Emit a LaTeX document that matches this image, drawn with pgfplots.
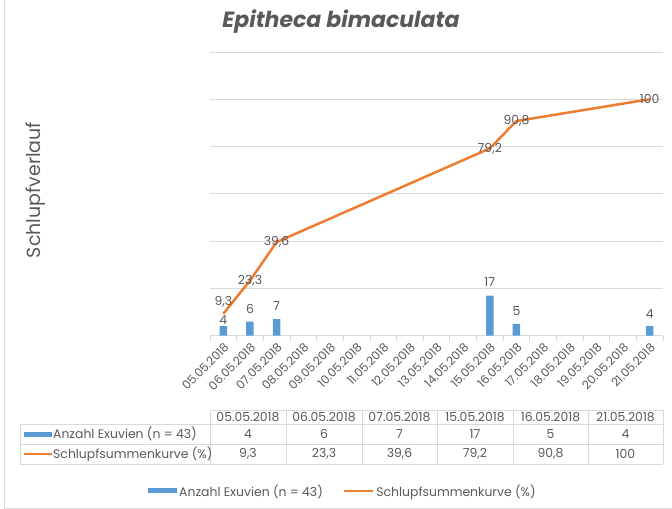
\documentclass[border=0pt]{standalone}
\usepackage{fontspec}
\setmainfont{Poppins}
\usepackage{pgfplots}
\usepackage{pgfplotstable}
\pgfplotsset{compat=1.18}
\definecolor{barblue}{HTML}{5B9BD5}
\definecolor{lineorange}{HTML}{ED7D31}
\definecolor{txt}{HTML}{595959}
\definecolor{gridc}{HTML}{D9D9D9}

\pgfplotstableread{
x y dy
0 4 6
1 6 13
2 7 13
10 17 13
11 5 13
16 4 12
}\bars
\pgfplotstableread{
x y dy
0 9.3 12
1 23.3 0
2 39.6 0
10 79.2 0
11 90.8 0
16 100 0
}\cum

\begin{document}
\begin{tikzpicture}[font=\fontsize{12.4bp}{14bp}\selectfont, text=txt]
\path[use as bounding box] (0,0) rectangle (672bp,509bp);
\draw[gridc, line width=0.75bp] (4bp,509bp) -- (4bp,1bp) -- (672bp,1bp);
\begin{axis}[
  at={(210bp,173.3bp)}, anchor=south west,
  scale only axis, width=453bp, height=283.7bp,
  xmin=-0.5, xmax=16.5, ymin=0, ymax=120,
  /pgf/number format/assume math mode=true,
  ytick={0,20,...,120}, yticklabels={},
  ymajorgrids, grid style={draw=gridc, line width=0.75bp},
  axis x line*=bottom, axis y line*=left,
  y axis line style={draw=none}, ytick style={draw=none},
  x axis line style={draw=gridc, line width=0.75bp},
  xtick={0,...,16},
  xticklabels={05.05.2018,06.05.2018,07.05.2018,08.05.2018,09.05.2018,10.05.2018,11.05.2018,12.05.2018,13.05.2018,14.05.2018,15.05.2018,16.05.2018,17.05.2018,18.05.2018,19.05.2018,20.05.2018,21.05.2018},
  major x tick style={draw=none},
  minor xtick={-0.5,0.5,...,16.5},
  minor x tick style={draw=gridc, line width=0.75bp},
  minor tick length=5bp, tick align=outside,
  xticklabel style={rotate=45, anchor=north east, inner sep=1.5bp, font=\fontsize{11.8bp}{14bp}\selectfont, text=txt},
  clip=false,
  legend style={at={(0.2936,-0.5474)}, anchor=center, draw=none, fill=none,
    legend columns=2, font=\fontsize{12.4bp}{14bp}\selectfont, text=txt,
    /tikz/every even column/.append style={column sep=18bp},
    /tikz/every odd column/.append style={inner sep=1bp}},
  legend cell align=left,
]
\addplot[ybar, bar shift=0pt, bar width=7.5bp, fill=barblue, draw=none,
  visualization depends on={\thisrow{dy} \as \dy},
  nodes near coords={\pgfmathprintnumber{\pgfplotspointmeta}},
  every node near coord/.append style={anchor=center, yshift=\dy bp, text=txt, font=\fontsize{12.4bp}{14bp}\selectfont},
  legend image code/.code={\fill[barblue] (0bp,-2.5bp) rectangle (29bp,2.5bp);}]
  table[x=x, y=y] {\bars};
\addlegendentry{Anzahl Exuvien (n = 43)}
\addplot[lineorange, line width=2.5bp, line join=round, mark=none,
  visualization depends on={\thisrow{dy} \as \dy},
  nodes near coords={\pgfmathprintnumber[use comma, fixed, precision=1]{\pgfplotspointmeta}},
  every node near coord/.append style={anchor=center, yshift=\dy bp, text=txt, font=\fontsize{12.4bp}{14bp}\selectfont},
  legend image code/.code={\draw[lineorange, line width=2.5bp] (0bp,0bp) -- (29bp,0bp);}]
  table[x=x, y=y] {\cum};
\addlegendentry{Schlupfsummenkurve (\%)}
\end{axis}
\node[anchor=base, font=\fontsize{22bp}{25bp}\selectfont\bfseries\itshape] at (341bp,481bp) {Epitheca bimaculata};
\node[anchor=base, rotate=90, font=\fontsize{19bp}{21bp}\selectfont] at (40bp,319bp) {Schlupfverlauf};
\begin{scope}[yshift=509bp, x=1bp, y=-1bp]
  \draw[gridc, line width=0.75bp] (210,410) -- (663,410);
  \draw[gridc, line width=0.75bp] (20,424.3) -- (663,424.3);
  \draw[gridc, line width=0.75bp] (20,444.3) -- (663,444.3);
  \draw[gridc, line width=0.75bp] (20,464) -- (663,464);
  \draw[gridc, line width=0.75bp] (20,424.3) -- (20,464);
  \foreach \xx in {210,286,362,437,513,588,663} {
    \draw[gridc, line width=0.75bp] (\xx,410) -- (\xx,464);
  }
  \fill[barblue] (24,431.8) rectangle (52,436.8);
  \draw[lineorange, line width=2.5bp] (24,454) -- (52,454);
  \node[anchor=west, inner sep=0pt] at (53,434) {Anzahl Exuvien (n = 43)};
  \node[anchor=west, inner sep=0pt] at (53,454) {Schlupfsummenkurve (\%)};
  \foreach \cx/\d/\a/\b in {248/05.05.2018/4/{9,3}, 324/06.05.2018/6/{23,3}, 399.5/07.05.2018/7/{39,6}, 475/15.05.2018/17/{79,2}, 550.5/16.05.2018/5/{90,8}, 625.5/21.05.2018/4/100} {
    \node at (\cx,417) {\d};
    \node at (\cx,434) {\a};
    \node at (\cx,454) {\b};
  }
\end{scope}
\end{tikzpicture}
\end{document}
